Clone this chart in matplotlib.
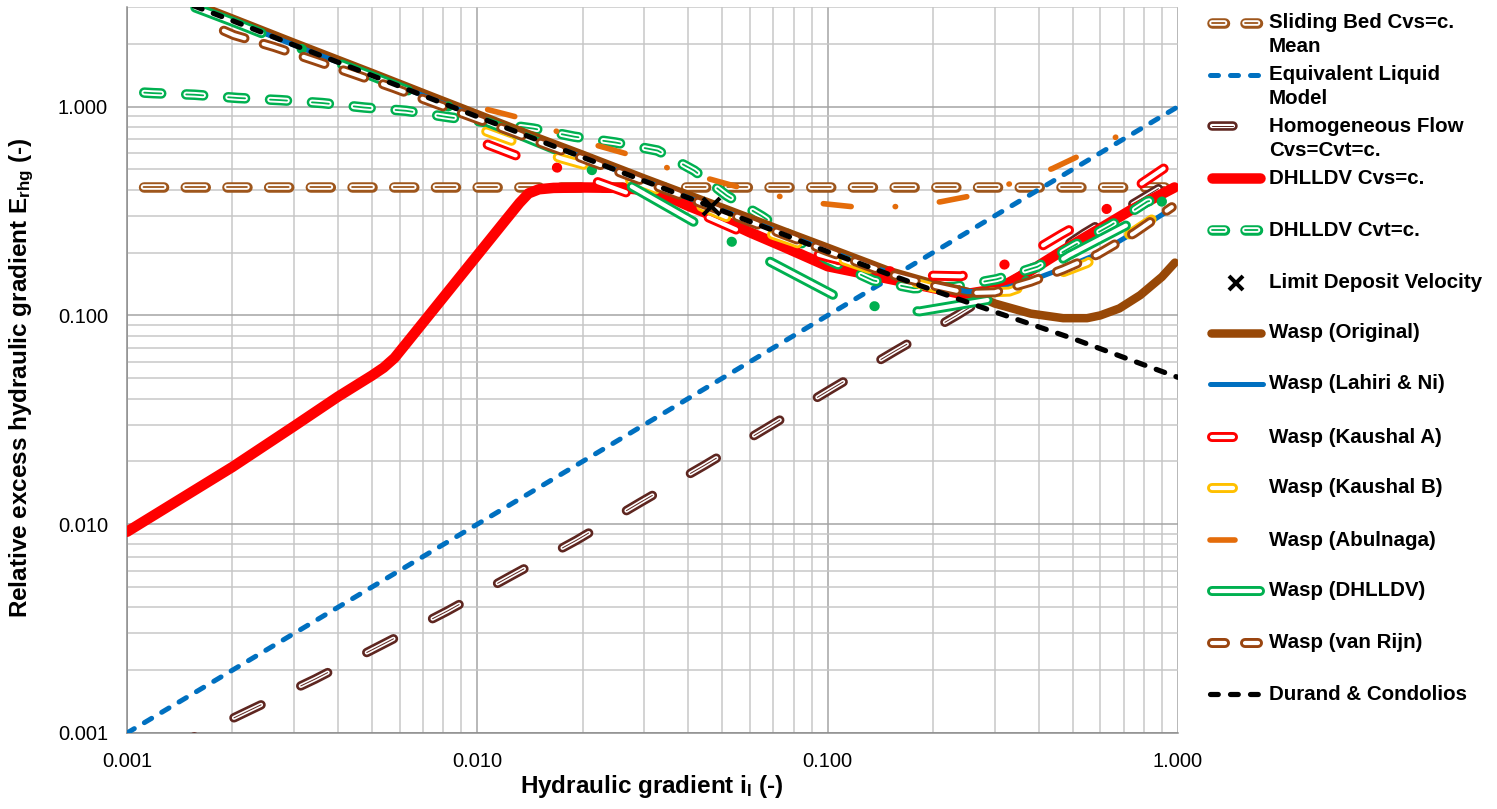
import numpy as np
import matplotlib
matplotlib.use("Agg")
import matplotlib.pyplot as plt
from matplotlib.lines import Line2D
from matplotlib.ticker import FixedLocator, FormatStrFormatter, LogLocator, NullFormatter

W_PX, H_PX, DPI = 1497, 809, 100

plt.rcParams.update({
    "font.family": ["Liberation Sans", "DejaVu Sans"],
    "mathtext.fontset": "custom",
    "mathtext.rm": "Liberation Sans:bold",
    "mathtext.it": "Liberation Sans:bold",
    "mathtext.bf": "Liberation Sans:bold",
    "lines.scale_dashes": False,
})

# ---------------------------------------------------------------- data
sliding_il = [0.001, 1.0]
sliding_e = [0.41, 0.41]

equiv_il = [0.001, 1.0]
equiv_e = [0.001, 1.0]

homog_il = [0.0013, 0.0015, 0.002216, 0.003444, 0.005317, 0.008204, 0.01259, 0.01919,
            0.02924, 0.04453, 0.06745, 0.102, 0.1553, 0.2337, 0.35, 0.539, 0.816, 1.0]
homog_e = [0.00082, 0.00093, 0.001274, 0.001813, 0.002636, 0.003835, 0.0057, 0.00838,
           0.01274, 0.01916, 0.0291, 0.04426, 0.0673, 0.1, 0.152, 0.247, 0.375, 0.46]

cvs_il = [0.001, 0.002, 0.003, 0.004, 0.005, 0.0054, 0.0058, 0.0063, 0.007, 0.0075, 0.009,
          0.0105, 0.012, 0.0132, 0.014, 0.015, 0.0165, 0.02, 0.026, 0.03, 0.035, 0.04,
          0.05, 0.06, 0.075, 0.1, 0.158, 0.245, 0.306, 0.38, 0.47, 0.586, 0.73, 0.977]
cvs_e = [0.0092, 0.0188, 0.0295, 0.0408, 0.0515, 0.0562, 0.0625, 0.0742, 0.0924, 0.1067,
         0.156, 0.215, 0.284, 0.346, 0.384, 0.402, 0.408, 0.41, 0.408, 0.398, 0.37, 0.335,
         0.288, 0.25, 0.213, 0.172, 0.147, 0.126, 0.134, 0.164, 0.205, 0.255, 0.318, 0.41]

cvt_il = [0.001, 0.00119, 0.00156, 0.00207, 0.00274, 0.00361, 0.00476, 0.00626, 0.00828,
          0.011, 0.01445, 0.0189, 0.0248, 0.0327, 0.0416, 0.0515, 0.065, 0.08, 0.1,
          0.135, 0.176, 0.23, 0.304, 0.397, 0.505, 0.643, 0.817, 0.93]
cvt_e = [1.18, 1.16, 1.14, 1.10, 1.074, 1.04, 0.99, 0.955, 0.89, 0.835, 0.785, 0.718,
         0.673, 0.616, 0.494, 0.375, 0.298, 0.235, 0.185, 0.147, 0.135, 0.137, 0.149,
         0.171, 0.216, 0.27, 0.351, 0.37]

ldv_il = [0.0466]
ldv_e = [0.336]

wasp_orig_il = [0.00155, 0.002, 0.003, 0.005, 0.0075, 0.01, 0.015, 0.02, 0.03, 0.05, 0.075,
                0.1, 0.15, 0.2, 0.25, 0.3, 0.38, 0.47, 0.55, 0.6, 0.68, 0.78, 0.9, 0.98]
wasp_orig_e = [3.12, 2.64, 2.02, 1.45, 1.11, 0.92, 0.705, 0.588, 0.452, 0.328, 0.253,
               0.211, 0.163, 0.142, 0.13, 0.114, 0.102, 0.097, 0.097, 0.1, 0.108, 0.125,
               0.153, 0.179]

lahiri_il = [0.00155, 0.002, 0.003, 0.005, 0.0075, 0.01, 0.015, 0.02, 0.03, 0.05, 0.075,
             0.1, 0.15, 0.2, 0.25, 0.3, 0.38, 0.47, 0.59, 0.75, 0.96]
lahiri_e = [3.04, 2.58, 1.97, 1.41, 1.08, 0.895, 0.688, 0.572, 0.44, 0.318, 0.246,
            0.204, 0.16, 0.14, 0.13, 0.131, 0.147, 0.168, 0.197, 0.25, 0.325]

kaushal_a_il = [0.0107, 0.0129, 0.0169, 0.0219, 0.0266, 0.0348, 0.045, 0.055, 0.07, 0.1,
                0.14, 0.198, 0.24, 0.317, 0.407, 0.464, 0.62, 0.79, 0.91]
kaushal_a_e = [0.658, 0.583, 0.51, 0.437, 0.388, 0.34, 0.298, 0.257, 0.225, 0.19,
               0.165, 0.155, 0.154, 0.174, 0.214, 0.244, 0.32, 0.43, 0.505]

kaushal_b_il = [0.0106, 0.0127, 0.0174, 0.0205, 0.03, 0.044, 0.06, 0.08, 0.1, 0.15, 0.2,
                0.26, 0.33, 0.43, 0.55, 0.7, 0.78, 0.95]
kaushal_b_e = [0.76, 0.68, 0.564, 0.522, 0.42, 0.33, 0.265, 0.225, 0.195, 0.155, 0.136,
               0.128, 0.13, 0.152, 0.178, 0.235, 0.265, 0.33]

abulnaga_il = [0.0107, 0.0128, 0.0169, 0.0221, 0.0265, 0.0348, 0.0467, 0.055, 0.0732,
               0.097, 0.117, 0.157, 0.21, 0.249, 0.333, 0.438, 0.51, 0.66, 0.7]
abulnaga_e = [0.968, 0.896, 0.76, 0.65, 0.596, 0.51, 0.447, 0.414, 0.371, 0.343, 0.332,
              0.332, 0.35, 0.37, 0.428, 0.505, 0.57, 0.71, 0.75]

wasp_dhlldv_il = [0.00155, 0.002, 0.003, 0.005, 0.0075, 0.01, 0.0125, 0.0168, 0.021,
                  0.0276, 0.0417, 0.0536, 0.0684, 0.104, 0.138, 0.183, 0.29, 0.38,
                  0.488, 0.718, 0.92]
wasp_dhlldv_e = [3.0, 2.55, 1.95, 1.40, 1.07, 0.88, 0.76, 0.62, 0.50, 0.414, 0.279,
                 0.224, 0.181, 0.125, 0.11, 0.1045, 0.119, 0.15, 0.194, 0.272, 0.36]

van_rijn_il = [0.00189, 0.00202, 0.00263, 0.00344, 0.00446, 0.00576, 0.00752, 0.00967,
               0.0125, 0.015, 0.02, 0.03, 0.05, 0.075, 0.1, 0.15, 0.2, 0.25, 0.3, 0.38,
               0.47, 0.59, 0.75, 0.96]
van_rijn_e = [2.31, 2.2, 1.93, 1.66, 1.43, 1.23, 1.04, 0.89, 0.76, 0.675, 0.565, 0.437,
              0.316, 0.244, 0.203, 0.158, 0.139, 0.128, 0.129, 0.145, 0.166, 0.196,
              0.248, 0.33]

durand_il = [0.00155, 0.002, 0.003, 0.005, 0.0075, 0.01, 0.015, 0.02, 0.03, 0.05, 0.075,
             0.1, 0.15, 0.2, 0.3, 0.5, 0.75, 1.0]
durand_e = [3.04, 2.58, 1.97, 1.41, 1.08, 0.895, 0.688, 0.572, 0.44, 0.317, 0.244,
            0.202, 0.157, 0.132, 0.104, 0.0776, 0.0603, 0.0505]

x_ticks = [0.001, 0.01, 0.1, 1.0]
y_ticks = [0.001, 0.01, 0.1, 1.0]

legend_labels = [
    "Sliding Bed Cvs=c.\nMean",
    "Equivalent Liquid\nModel",
    "Homogeneous Flow\nCvs=Cvt=c.",
    "DHLLDV Cvs=c.",
    "DHLLDV Cvt=c.",
    "Limit Deposit Velocity",
    "Wasp (Original)",
    "Wasp (Lahiri & Ni)",
    "Wasp (Kaushal A)",
    "Wasp (Kaushal B)",
    "Wasp (Abulnaga)",
    "Wasp (DHLLDV)",
    "Wasp (van Rijn)",
    "Durand & Condolios",
]

# ---------------------------------------------------------------- colours
C_SLIDE = "#9E561C"
C_BLUE = "#0070C0"
C_HOMOG = "#5E2620"
C_RED = "#FF0000"
C_GREEN = "#00B050"
C_BROWN = "#984807"
C_VRIJN = "#9A4510"
C_YELLOW = "#FFC000"
C_ORANGE = "#E46C0A"


def pt(v):
    """pixels -> points"""
    return v * 72.0 / DPI


# ---------------------------------------------------------------- figure
fig = plt.figure(figsize=(W_PX / DPI, H_PX / DPI), dpi=DPI)
AX_L, AX_R, AX_T, AX_B = 127, 1178, 7, 733
ax = fig.add_axes([AX_L / W_PX, 1 - AX_B / H_PX, (AX_R - AX_L) / W_PX, (AX_B - AX_T) / H_PX])
ax.set_xscale("log")
ax.set_yscale("log")
ax.set_xlim(0.001, 1.0)
ax.set_ylim(0.001, 3.0)

for axis, ticks in ((ax.xaxis, x_ticks), (ax.yaxis, y_ticks)):
    axis.set_major_locator(FixedLocator(ticks))
    axis.set_major_formatter(FormatStrFormatter("%.3f"))
    axis.set_minor_locator(LogLocator(base=10, subs=np.arange(2, 10)))
    axis.set_minor_formatter(NullFormatter())

ax.tick_params(which="both", length=0)
ax.tick_params(axis="x", labelsize=14.5, pad=pt(19))
ax.tick_params(axis="y", labelsize=14.5, pad=pt(19))
ax.set_axisbelow(True)
ax.grid(which="major", color="#A3A3A3", lw=pt(1.5))
ax.grid(which="minor", color="#C6C6C6", lw=pt(1.5))
for side in ("top", "right"):
    ax.spines[side].set_visible(False)
for side in ("left", "bottom"):
    ax.spines[side].set_color("#8A8A8A")
    ax.spines[side].set_linewidth(pt(1.5))


def path_length_to(x, y, xa):
    pts = ax.transData.transform(np.column_stack([x, y]))
    seg = np.hypot(np.diff(pts[:, 0]), np.diff(pts[:, 1]))
    cum = np.concatenate([[0.0], np.cumsum(seg)])
    return float(np.interp(np.log10(xa), np.log10(x), cum))


def layers(width, color, on=None, off=None, dot=False, inner=None, core=None):
    """Stroke layers (width px, colour, dash pattern px) for one series style."""
    if on is None:
        outer_pat = None
        inner_pat = None
    elif dot:
        outer_pat = [on, off, 0.4, off]
        inner_pat = [on, 2 * off + 0.4]
    else:
        outer_pat = [on, off]
        inner_pat = [on, off]
    out = [(width, color, outer_pat)]
    if inner:
        out.append((inner, "white", inner_pat))
    if core:
        out.append((core, color, inner_pat))
    return out


def draw_styled(target, x, y, spec, z, offset_px=0.0, transform=None):
    for w, c, pat in spec:
        kw = dict(color=c, lw=pt(w), solid_capstyle="round", dash_capstyle="round",
                  solid_joinstyle="round", dash_joinstyle="round", zorder=z)
        if pat is not None:
            period = sum(pat)
            off = (offset_px % period)
            kw["linestyle"] = (pt(off), [pt(p) for p in pat])
        if transform is None:
            target.plot(x, y, **kw)
        else:
            target.add_artist(Line2D(x, y, transform=transform, **kw))


def anchored_offset(x, y, xa, spec):
    pat = spec[0][2]
    period = sum(pat)
    return (-path_length_to(x, y, xa)) % period


S_SLIDE = layers(10.5, C_SLIDE, 20.0, 21.7, inner=5.6, core=1.8)
S_EQUIV = layers(5.0, C_BLUE, 8.5, 11.7)
S_HOMOG = layers(9.5, C_HOMOG, 30, 44, inner=4.2, core=1.0)
S_CVS = layers(10.5, C_RED)
S_CVT = layers(10.5, C_GREEN, 17.0, 25.0, inner=5.6, core=1.8)
S_ORIG = layers(8.5, C_BROWN)
S_LAHIRI = layers(5.0, C_BLUE)
S_KA = layers(10.0, C_RED, 30, 43, dot=True, inner=4.2)
S_KB = layers(10.0, C_YELLOW, 27, 49, inner=4.2)
S_ABUL = layers(5.6, C_ORANGE, 28, 44, dot=True)
S_WDH = layers(10.0, C_GREEN, 71, 43, dot=True, inner=4.2)
S_VRIJN = layers(10.0, C_VRIJN, 22, 20, inner=4.2)
S_DURAND = layers(5.2, "black", 9, 12)

series = [
    (sliding_il, sliding_e, S_SLIDE, 0.001115),
    (equiv_il, equiv_e, S_EQUIV, None),
    (homog_il, homog_e, S_HOMOG, 0.00202),
    (cvs_il, cvs_e, S_CVS, None),
    (cvt_il, cvt_e, S_CVT, 0.00112),
    (wasp_orig_il, wasp_orig_e, S_ORIG, None),
    (lahiri_il, lahiri_e, S_LAHIRI, None),
    (kaushal_a_il, kaushal_a_e, S_KA, kaushal_a_il[0]),
    (kaushal_b_il, kaushal_b_e, S_KB, kaushal_b_il[0]),
    (abulnaga_il, abulnaga_e, S_ABUL, abulnaga_il[0]),
    (wasp_dhlldv_il, wasp_dhlldv_e, S_WDH, 0.0276),
    (van_rijn_il, van_rijn_e, S_VRIJN, van_rijn_il[0]),
    (durand_il, durand_e, S_DURAND, None),
]

for i, (xs, ys, spec, anchor) in enumerate(series):
    off = anchored_offset(xs, ys, anchor, spec) if anchor is not None else 0.0
    draw_styled(ax, xs, ys, spec, z=3 + i, offset_px=off)

ax.plot(ldv_il, ldv_e, linestyle="none", marker="x", color="black",
        markersize=pt(17), markeredgewidth=pt(4.0), zorder=40)

# ---------------------------------------------------------------- axis titles
def fx(xp):
    return xp / W_PX


def fy(yp):
    return 1 - yp / H_PX


fig.text(fx(652), fy(787), r"Hydraulic gradient i$_{\mathrm{l}}$ (-)", fontsize=17.5,
         fontweight="bold", ha="center", va="center")
fig.text(fx(22), fy(378), r"Relative excess hydraulic gradient E$_{\mathrm{rhg}}$ (-)",
         fontsize=17.5, fontweight="bold", ha="center", va="center", rotation=90)

# ---------------------------------------------------------------- legend
leg_y = [23, 75, 126, 178, 230, 283, 333, 384, 437, 488, 540, 591, 643, 694]
H0, H1 = 1207, 1265
legend_specs = [
    (S_SLIDE, "pair"),
    (S_EQUIV, "dash3"),
    (S_HOMOG, "short"),
    (S_CVS, "full"),
    (S_CVT, "pair"),
    (None, "marker"),
    (S_ORIG, "full"),
    (S_LAHIRI, "full"),
    (S_KA, "short"),
    (S_KB, "short"),
    (S_ABUL, "short"),
    (S_WDH, "full"),
    (S_VRIJN, "pair"),
    (S_DURAND, "dash3"),
]

for y, label, (spec, kind) in zip(leg_y, legend_labels, legend_specs):
    yy = [fy(y), fy(y)]
    if kind == "marker":
        fig.add_artist(Line2D([fx((H0 + H1) / 2)], [fy(y)], transform=fig.transFigure,
                              linestyle="none", marker="x", color="black",
                              markersize=pt(14), markeredgewidth=pt(4.0)))
    else:
        w = spec[0][0]
        if kind == "full":
            x0, x1 = H0 + w / 2, H1 - w / 2
            pat_spec = [(a, b, None) for a, b, _ in spec]
        elif kind == "short":
            x0, x1 = H0 + w / 2, H0 + 31 - w / 2
            pat_spec = [(a, b, None) for a, b, _ in spec]
        elif kind == "pair":
            d = 23 - w
            g = 33 - d
            x0, x1 = H0 + w / 2, H1 - w / 2
            pat_spec = [(a, b, [d, g]) for a, b, _ in spec]
        else:  # three short dashes
            d = 13 - w
            g = 20 - d
            x0, x1 = H0 + w / 2, H1 - w / 2
            pat_spec = [(a, b, [d, g]) for a, b, _ in spec]
        draw_styled(fig, [fx(x0), fx(x1)], yy, pat_spec, z=5, transform=fig.transFigure)
    lines = label.split("\n")
    for k, txt in enumerate(lines):
        fig.text(fx(1269), fy(y + 5.5 + 24 * k), txt, fontsize=14.8, fontweight="bold",
                 ha="left", va="baseline")

fig.savefig("out.png", dpi=DPI)
